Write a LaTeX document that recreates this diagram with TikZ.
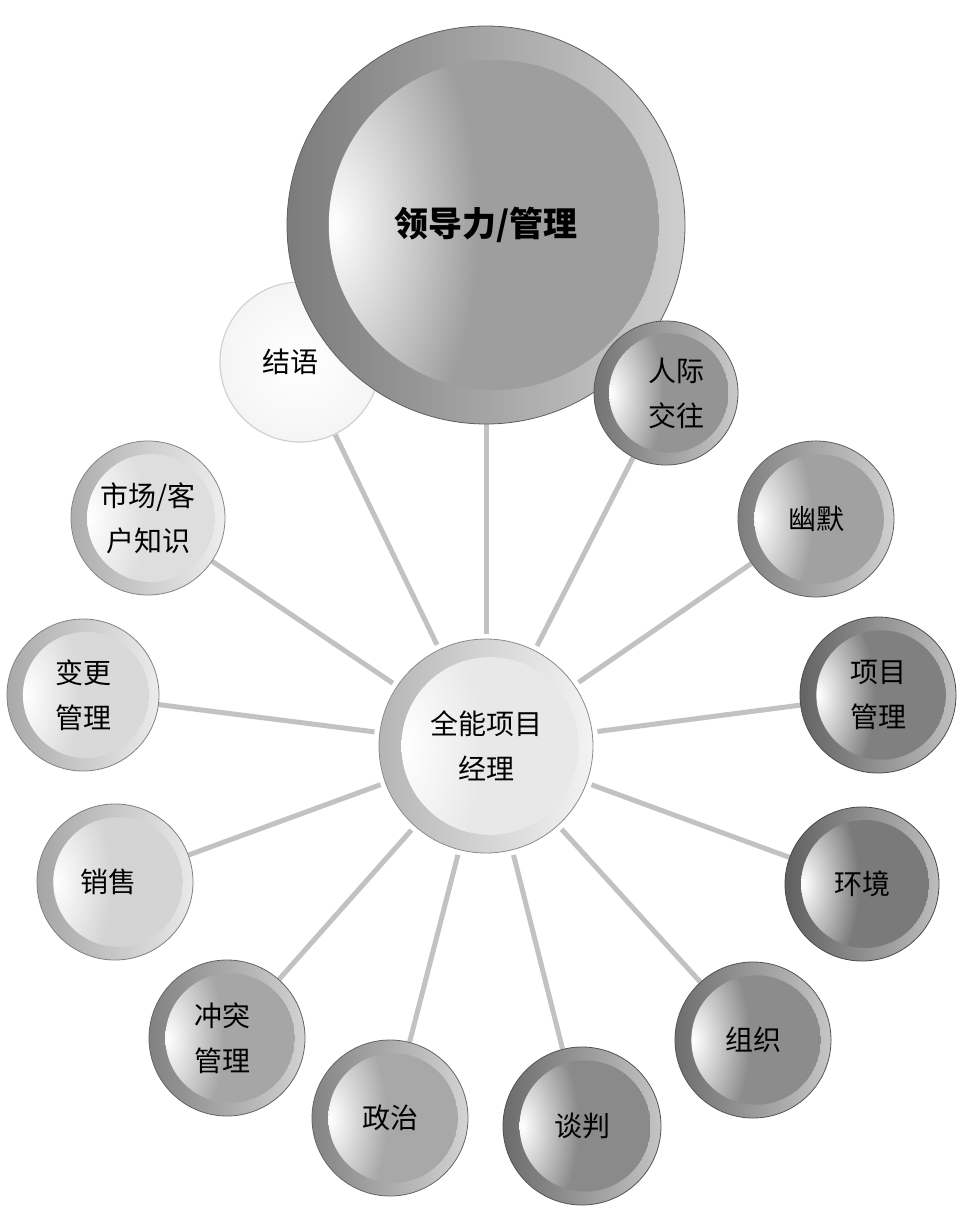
\documentclass[tikz,border=0pt]{standalone}
\usepackage{fontspec}
\newfontfamily\cjk{Noto Sans CJK SC}
\pgfdeclarelayer{background}
\pgfsetlayers{background,main}
\definecolor{mybase}{gray}{0.6}
\definecolor{spokegray}{gray}{0.76}
\tikzset{
  ball/.style n args={2}{circle, inner sep=0pt, minimum size={2*#1pt}, align=center,
    /utils/exec={\definecolor{mybase}{gray}{#2}},
    draw=mybase!60!black, line width=0.8pt,
    left color=mybase!78!black, right color=mybase!50!white,
    font=\cjk\fontsize{28}{45}\selectfont,
    path picture={
      \begin{scope}
        \clip ([xshift={0.04*#1pt}]path picture bounding box.center) circle[radius={0.83*#1pt}];
        \fill[mybase] ([xshift={0.04*#1pt}]path picture bounding box.center) circle[radius={0.83*#1pt}];
        \shade[inner color=white, outer color=mybase]
          ([xshift={-0.76*#1pt}]path picture bounding box.center)
          ellipse[x radius={0.72*#1pt}, y radius={1.35*#1pt}];
      \end{scope}}},
  plainball/.style={circle, inner sep=0pt, minimum size={2*#1pt}, align=center,
    draw=black!18, line width=1.2pt, inner color=white, outer color=black!4,
    font=\cjk\fontsize{28}{45}\selectfont},
  spoke/.style={draw=spokegray, line width=5pt, shorten <=5pt}
}
\begin{document}
\begin{tikzpicture}[x=1pt,y=-1pt]
\useasboundingbox (0,0) rectangle (966,1215);

\node[plainball=80] (jieyu) at (300,362) {结语\hspace*{20pt}};
\node[ball={199}{0.62}, font=\cjk\bfseries\fontsize{34}{40}\selectfont] (lead) at (486,225) {领导力/管理};
\node[ball={72}{0.58}] (renji) at (666,393) {\hspace*{20pt}人际\\\hspace*{20pt}交往};
\node[ball={78}{0.63}] (youmo) at (816,519) {幽默};
\node[ball={78}{0.50}] (xmgl) at (878,695) {项目\\管理};
\node[ball={77}{0.48}] (huanjing) at (862,884) {环境};
\node[ball={78}{0.55}] (zuzhi) at (753,1040) {组织};
\node[ball={79}{0.54}] (tanpan) at (582,1126) {谈判};
\node[ball={78}{0.66}] (zhengzhi) at (390,1118) {政治};
\node[ball={78}{0.65}] (chongtu) at (227,1038) {冲突\hspace*{10pt}\\管理\hspace*{10pt}};
\node[ball={78}{0.83}] (xiaoshou) at (115,882) {销售\hspace*{14pt}};
\node[ball={76}{0.85}] (biangeng) at (83,695) {变更\\管理};
\node[ball={77}{0.87}] (shichang) at (148,518) {市场/客\\户知识};
\node[ball={107}{0.91}] (center) at (486,746) {全能项目\\经理};

\begin{pgfonlayer}{background}
\fill[white] (0,0) rectangle (966,1215);
\foreach \t in {lead,jieyu,renji,youmo,xmgl,huanjing,zuzhi,tanpan,zhengzhi,chongtu,xiaoshou,biangeng,shichang}
  \draw[spoke] (center) -- (\t);
\end{pgfonlayer}
\end{tikzpicture}
\end{document}
